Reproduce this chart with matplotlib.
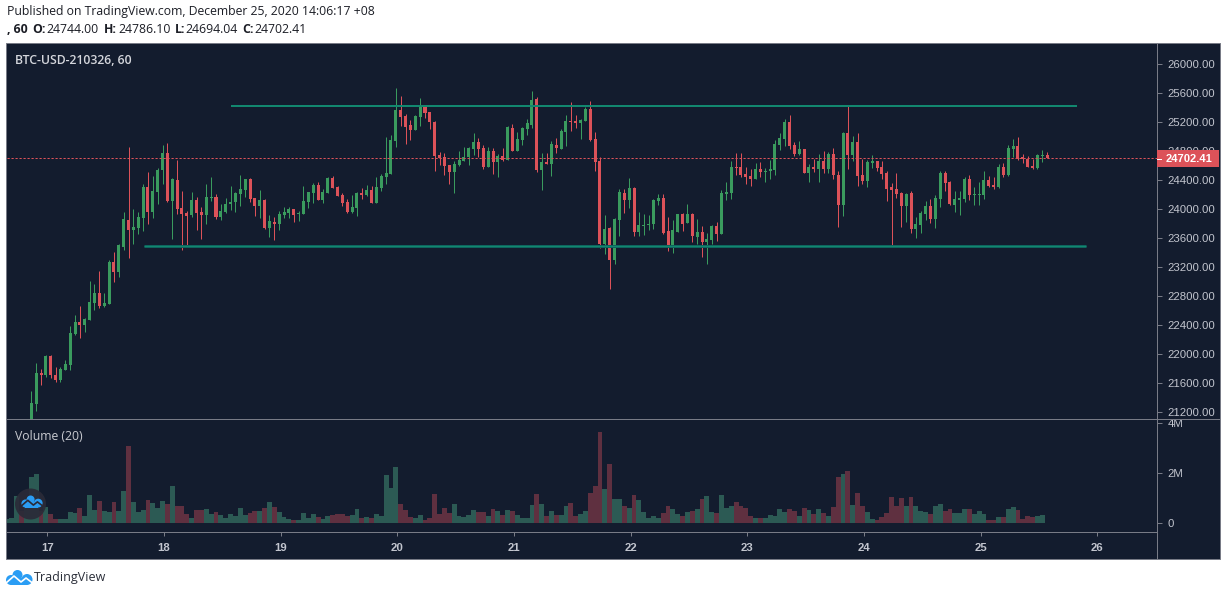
import numpy as np
import matplotlib
matplotlib.use("Agg")
import matplotlib.pyplot as plt
from matplotlib.patches import Rectangle, Circle
from matplotlib.transforms import Bbox

W, H = 1227, 596

opens = [20900,21305,21735,21705,21970,21705,21640,21775,21845,22270,22440,22395,22465,22700,22835,22660,22685,23265,23125,23470,
23845,23705,23735,23870,24300,23955,24230,24535,24770,24105,24395,24010,23940,23915,24120,23955,23915,24150,24160,23885,
23955,24065,24090,24205,24260,24410,24150,24035,24120,23735,23815,23790,23915,23940,23995,23925,23925,24090,24215,24325,
24120,24215,24425,24300,24190,24090,23955,24010,24215,24190,24260,24080,24285,24435,24480,24935,25360,25280,25155,25085,
25265,25405,25335,25195,24740,24715,24605,24505,24605,24660,24715,24825,24920,24835,24575,24795,24645,24725,24670,25115,
24795,24950,25100,25155,25515,24535,24645,24615,24880,24825,25060,25210,25210,25180,25210,25375,24960,24660,23515,23735,
23295,23845,24215,24120,24285,23680,23760,23775,23790,24105,24150,23690,23470,23680,23925,23805,23925,23610,23680,23540,
23570,23760,23650,24205,24215,24575,24575,24480,24450,24410,24550,24505,24520,24535,24880,24960,25195,24880,24755,24825,
24490,24575,24550,24660,24550,24755,24465,24050,25045,24740,24920,24465,24380,24630,24660,24575,24490,24300,24270,24215,
24035,24215,23720,23775,23925,24035,23860,24135,24490,24370,24050,24120,24135,24410,24190,24190,24190,24395,24325,24300,
24575,24465,24825,24865,24715,24685,24590,24560,24730,24744]
highs = [21485,21870,21790,21980,21980,21815,21815,21915,22380,22535,22660,22495,23005,22960,23140,22835,23295,23405,23515,23955,
24850,23995,23955,24340,24505,24450,24560,24880,24905,24425,24670,24245,23970,24230,24160,24025,24340,24435,24205,24065,
24150,24315,24230,24465,24410,24425,24150,24260,24135,23915,23885,23970,24025,24025,23995,23970,24315,24230,24355,24370,
24270,24435,24450,24315,24215,24135,24190,24230,24285,24325,24315,24435,24480,24990,25015,25665,25555,25305,25225,25290,
25525,25430,25335,25210,24780,24770,24605,24660,24795,24850,24850,25045,24975,24880,24850,24835,24755,24835,25140,25170,
25060,25125,25235,25625,25540,24770,24770,24935,24975,25100,25290,25470,25290,25235,25405,25485,25060,24715,23915,23750,
23870,24270,24270,24425,24300,23955,23925,23915,24135,24205,24205,23885,23845,23925,23940,24065,23940,23860,23760,23665,
23775,23815,24260,24370,24660,24770,24770,24575,24550,24630,24645,24560,24670,24945,25045,25235,25290,24920,24935,24825,
24615,24685,24755,24795,24780,24835,24520,25060,25430,25005,25045,24685,24670,24740,24660,24660,24520,24355,24490,24230,
24215,24245,23885,23970,24105,24135,24190,24520,24520,24380,24245,24245,24435,24465,24300,24370,24520,24450,24435,24615,
24630,24880,24960,24990,24755,24725,24685,24755,24810,24786]
lows = [20835,21210,21570,21680,21665,21610,21610,21775,21775,22260,22215,22300,22465,22605,22630,22645,22685,22990,23060,23430,
23320,23515,23650,23695,23790,23870,24065,24340,24090,23580,23925,23430,23470,23885,23705,23580,23790,24105,23860,23845,
23940,23980,23955,24035,24160,24090,23900,23870,23720,23610,23570,23705,23870,23870,23815,23830,23925,24010,24080,24120,
24080,24215,24285,24175,24035,23940,23940,23900,24135,24175,24080,24080,24245,24340,24480,24850,25140,24890,24950,25085,
25140,25250,25100,24520,24605,24465,24340,24215,24590,24660,24605,24740,24715,24550,24575,24480,24435,24660,24670,24795,
24795,24880,25015,25115,24505,24260,24615,24450,24770,24825,24865,25070,25115,24960,25210,24935,24520,23460,23375,22895,
23235,23625,23940,24010,23625,23625,23635,23705,23720,24050,23650,23415,23390,23680,23690,23805,23540,23515,23335,23235,
23515,23555,23650,24120,24135,24465,24435,24340,24315,24410,24435,24370,24410,24465,24810,24865,24825,24725,24740,24490,
24370,24505,24370,24490,24490,24410,23750,23900,24550,24660,24315,24340,24300,24560,24520,24410,24105,23500,24150,23750,
23815,23665,23595,23665,23845,23805,23735,24025,24245,24050,23955,23915,24090,24120,24050,24050,24135,24300,24270,24285,
24435,24450,24715,24670,24630,24575,24550,24550,24645,24694]
closes = [21325,21735,21705,21970,21705,21640,21790,21860,22285,22440,22395,22480,22715,22835,22660,22700,23265,23125,23500,23860,
23705,23750,23885,24300,23955,24245,24535,24770,24105,24410,23995,23925,23900,24120,23940,23915,24160,24160,23885,23970,
24065,24090,24215,24270,24410,24135,24035,24120,23735,23830,23790,23925,23955,23995,23915,23940,24105,24230,24325,24120,
24230,24425,24285,24175,24080,23955,24025,24215,24190,24260,24080,24300,24450,24490,24950,25360,25265,25125,25085,25280,
25405,25320,25195,24725,24700,24590,24505,24615,24670,24715,24835,24920,24825,24575,24795,24645,24725,24670,25125,24795,
24960,25115,25180,25500,24535,24645,24615,24890,24835,25070,25210,25195,25180,25225,25375,24945,24645,23515,23720,23295,
23860,24230,24120,24285,23680,23775,23775,23790,24120,24150,23665,23470,23705,23925,23790,23925,23625,23680,23540,23580,
23760,23650,24215,24230,24575,24560,24465,24435,24410,24550,24505,24520,24550,24890,24975,25195,24865,24755,24825,24490,
24575,24550,24660,24550,24755,24465,24050,25045,24740,24920,24450,24380,24645,24660,24560,24480,24270,24260,24205,24035,
24205,23720,23790,23940,24035,23860,24150,24490,24355,24065,24135,24150,24410,24190,24205,24205,24395,24315,24300,24575,
24465,24835,24865,24685,24685,24575,24560,24740,24740,24702.41]

# Volume in millions; the first five bars belong to candles below the visible price range
lead_up = [True, True, True, False, True]
volumes = [0.16,0.20,1.08,0.50,0.70,
1.84,1.96,0.50,0.64,0.36,0.16,0.16,0.16,0.44,0.40,0.60,0.28,1.12,0.52,0.88,0.48,0.44,0.84,0.48,1.28,
3.08,0.84,0.44,0.52,0.92,0.80,0.60,0.88,0.76,1.48,0.68,0.68,0.36,0.20,0.52,0.52,0.56,0.36,0.44,0.32,
0.20,0.36,0.28,0.60,0.32,0.40,0.48,0.48,0.60,0.84,0.64,0.44,0.24,0.16,0.12,0.12,0.40,0.20,0.36,0.24,
0.16,0.28,0.32,0.36,0.36,0.28,0.32,0.56,0.20,0.24,0.20,0.36,0.28,1.92,1.40,2.24,0.76,0.52,0.24,0.20,
0.32,0.12,0.20,1.16,0.36,0.60,0.40,0.76,0.28,0.24,0.32,0.52,0.44,0.44,0.28,0.56,0.48,0.32,0.52,0.48,
0.32,0.20,0.20,0.72,1.16,0.76,0.28,0.48,0.32,0.32,0.68,0.80,0.28,0.36,0.48,1.20,1.48,3.64,1.36,2.36,
0.96,0.96,0.68,0.60,1.12,0.92,0.44,0.20,0.28,0.20,0.40,0.68,0.56,0.36,0.28,0.44,0.48,0.56,0.96,1.08,
0.44,0.40,1.12,0.60,0.68,0.84,0.68,0.60,0.28,0.20,0.20,0.20,0.32,0.28,0.56,0.44,0.56,0.48,0.28,0.60,
0.52,0.36,0.56,0.40,0.28,0.64,1.84,1.96,2.08,0.72,1.20,0.68,0.44,0.16,0.12,0.24,0.40,1.04,0.68,1.00,
0.68,1.04,0.68,0.48,0.44,0.36,0.68,0.76,0.48,0.56,0.40,0.40,0.56,0.56,0.36,0.48,0.36,0.12,0.12,0.24,
0.24,0.56,0.64,0.52,0.16,0.28,0.24,0.28,0.32,0.0]

price_ticks = [21200,21600,22000,22400,22800,23200,23600,24000,24400,24800,25200,25600,26000]
volume_ticks = [0, 2, 4]
volume_labels = ["0", "2M", "4M"]
day_labels = [17,18,19,20,21,22,23,24,25,26]
last_price = 24702.41
upper_level = 25416
lower_level = 23481

BG = "#131c2e"
UP = "#3a9b5e"
DOWN = "#dc5259"
VOL_UP = "#2c5a54"
VOL_DOWN = "#5f3040"
LEVEL = "#12876f"
LINE = "#787b86"
TXT = "#c2c5ce"
BLUE = "#2a9df4"
PX = 0.72

opens, highs, lows, closes = map(np.array, (opens, highs, lows, closes))
volumes = np.array(volumes, dtype=float)
x = np.arange(len(opens))
vx = np.arange(len(volumes)) - len(lead_up)
up = closes >= opens
vol_up = np.concatenate([lead_up, up])

plt.rcParams["font.family"] = ["Liberation Sans", "DejaVu Sans"]
fig = plt.figure(figsize=(W / 100, H / 100), dpi=100, facecolor="white")

def pane(x0, y0, x1, y1, **kw):
    return fig.add_axes([x0 / W, 1 - y1 / H, (x1 - x0) / W, (y1 - y0) / H], **kw)

bg = pane(0, 0, W, H)
bg.set_xlim(0, W); bg.set_ylim(H, 0); bg.axis("off")
bg.add_patch(Rectangle((5.5, 42.5), 1214, 516, facecolor=BG, edgecolor=LINE, lw=PX))
bg.plot([5.5, 1219.5], [418.5, 418.5], color=LINE, lw=PX)
bg.plot([5.5, 1156.5], [531.5, 531.5], color=LINE, lw=PX)
bg.plot([1156.5, 1156.5], [42.5, 558.5], color=LINE, lw=PX)

xlim = (-5.0, 231.6)
ax = pane(7, 44, 1157, 419)
ax.patch.set_alpha(0)
ax.set_xlim(*xlim); ax.set_ylim(21100, 26272)
for a in ("top", "left", "bottom", "right"):
    ax.spines[a].set_visible(False)
w1 = ax.vlines(x[up], lows[up], highs[up], color=UP, lw=PX, zorder=2)
w2 = ax.vlines(x[~up], lows[~up], highs[~up], color=DOWN, lw=PX, zorder=2)
w1.set_snap(True); w2.set_snap(True)
ax.bar(x[up], (closes - opens)[up], bottom=opens[up], width=0.62, color=UP, zorder=3, lw=0)
ax.bar(x[~up], (opens - closes)[~up], bottom=closes[~up], width=0.62, color=DOWN, zorder=3, lw=0)
ax.plot([41.1, 215.2], [upper_level, upper_level], color=LEVEL, lw=2 * PX, zorder=4, solid_capstyle="butt")
ax.plot([23.2, 217.0], [lower_level, lower_level], color="#0e5f5c", lw=3 * PX, zorder=4, solid_capstyle="butt")
ax.plot([23.2, 217.0], [lower_level, lower_level], color=LEVEL, lw=1.3 * PX, zorder=4, solid_capstyle="butt")
ax.axhline(last_price, color=DOWN, lw=PX, ls=(0, (2.2, 1.8)), zorder=5)
ax.set_xticks([])
ax.yaxis.tick_right()
ax.set_yticks(price_ticks)
ax.set_yticklabels([f"{v:.2f}" for v in price_ticks], fontsize=8.2, color=TXT)
ax.tick_params(axis="y", length=3.5, width=PX, color=LINE, pad=4)

vax = pane(7, 420, 1157, 532)
vax.patch.set_alpha(0)
vax.set_xlim(*xlim); vax.set_ylim(-0.36, 4.12)
for a in ("top", "left", "bottom", "right"):
    vax.spines[a].set_visible(False)
vax.bar(vx[vol_up], volumes[vol_up], width=1.0, color=VOL_UP, lw=0)
vax.bar(vx[~vol_up], volumes[~vol_up], width=1.0, color=VOL_DOWN, lw=0)
vax.yaxis.tick_right()
vax.set_yticks(volume_ticks)
vax.set_yticklabels(volume_labels, fontsize=8.2, color=TXT)
vax.tick_params(axis="y", length=3.5, width=PX, color=LINE, pad=4)
vax.set_xticks([3.3 + 24 * i for i in range(len(day_labels))])
vax.set_xticklabels(day_labels, fontsize=8.2, color=TXT, fontweight="bold")
vax.tick_params(axis="x", length=3, width=PX, color=LINE, pad=5)
clip = Bbox([[0, 0], [W, H - 420]])
for lab in vax.get_yticklabels():
    lab.set_clip_box(clip)
    lab.set_clip_on(True)

ov = pane(0, 0, W, H)
ov.set_xlim(0, W); ov.set_ylim(H, 0); ov.axis("off"); ov.patch.set_alpha(0)

# last-price tag
ov.add_patch(Rectangle((1157, 150), 62, 17, facecolor=DOWN, edgecolor="none", zorder=5))
ov.plot([1157, 1161], [158.5, 158.5], color="white", lw=PX, zorder=6)
ov.text(1166, 158.5, f"{last_price:.2f}", color="white", fontsize=8.0, fontweight="bold",
        va="center", ha="left", zorder=6)

HF = "Open Sans"
FS = 8.82
DARK = "#1c1e26"
ov.text(7, 12, "Published on TradingView.com, December 25, 2020 14:06:17 +08", family=HF,
        fontsize=FS, color=DARK, va="center", ha="left")
pieces = [(7, ", 60", True), (32, "O:", True), (46.7, "24744.00", False), (104, "H:", True),
          (118, "24786.10", False), (175, "L:", True), (185, "24694.04", False),
          (242.5, "C:", True), (254, "24702.41", False)]
for px, s, b in pieces:
    ov.text(px, 29.5, s, family=HF, fontsize=FS, color=DARK, va="center", ha="left",
            fontweight="bold" if b else "normal")
ov.text(15, 60.5, "BTC-USD-210326, 60", family=HF, fontsize=FS, color="#d4d6dc",
        fontweight="semibold", va="center", ha="left")
ov.text(15, 436.5, "Volume (20)", family=HF, fontsize=FS, color="#c8cad0", va="center", ha="left")

def cloud(cx, cy, s, ax_, line):
    for ox, oy, r in [(-8, 2.5, 5), (-1.5, -2.5, 5), (8, 2, 5.5)]:
        ax_.add_patch(Circle((cx + ox * s, cy + oy * s), r * s, facecolor=BLUE, edgecolor="none", zorder=8))
    ax_.add_patch(Rectangle((cx - 8 * s, cy), 16 * s, 7.5 * s, facecolor=BLUE, edgecolor="none", zorder=8))
    z = np.array([[-13, 5.5], [-5, -1.5], [2, 4.5], [7, 0.5], [13.5, 5.5]]) * s + [cx, cy]
    ax_.plot(z[:, 0], z[:, 1], color=line, lw=1.2, zorder=9, solid_capstyle="round")

ov.add_patch(Circle((30.5, 504), 15.5, facecolor="#2a2b38", edgecolor="none", alpha=0.92, zorder=7))
cloud(31.8, 501.5, 0.8, ov, "#2a2b38")
cloud(19, 577.5, 1.0, ov, "white")
ov.text(34, 577.5, "TradingView", family=HF, fontsize=9, color="#2a2e39", va="center", ha="left")

fig.savefig("out.png", dpi=100, facecolor="white")
